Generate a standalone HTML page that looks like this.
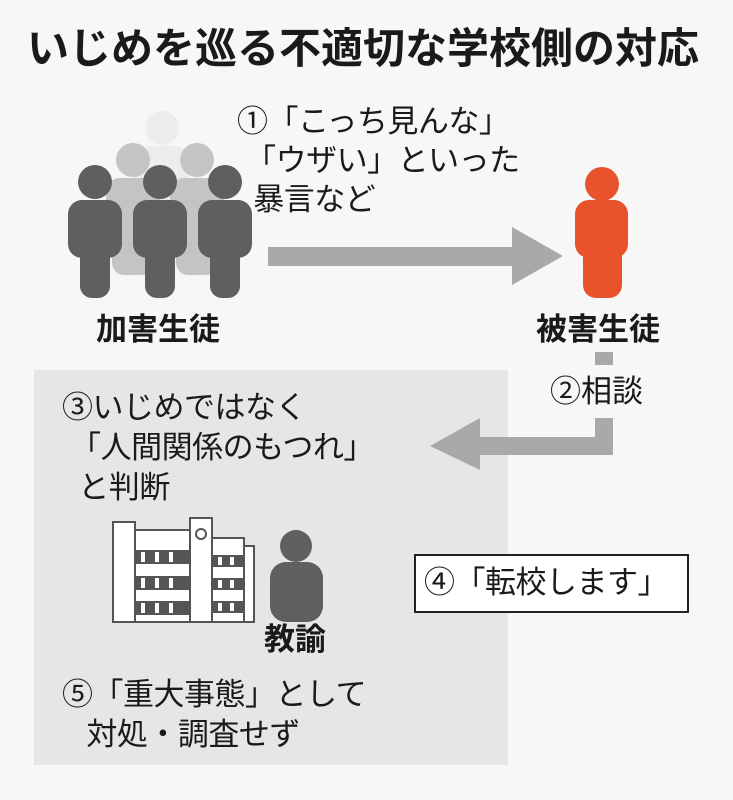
<!DOCTYPE html>
<html><head><meta charset="utf-8"><style>
body{margin:0;width:733px;height:800px;background:#f7f7f7;position:relative;overflow:hidden;font-family:"Liberation Sans","Noto Sans CJK JP",sans-serif;color:#1a1a1a}
.t{position:absolute;white-space:nowrap;line-height:1}
svg{position:absolute;left:0;top:0}
</style></head><body>
<svg width="733" height="800" viewBox="0 0 733 800">
<rect x="34" y="370" width="474" height="395" fill="#e6e6e6"/>
<g fill="#ececec"><circle cx="162" cy="128" r="17"/><rect x="135" y="146" width="54" height="100" rx="14"/></g>
<g fill="#c4c4c4"><circle cx="133" cy="160" r="17"/><rect x="106" y="178" width="54" height="60" rx="14"/><rect x="112" y="220" width="42" height="55" rx="12"/>
<circle cx="197" cy="160" r="17"/><rect x="170" y="178" width="54" height="60" rx="14"/><rect x="176" y="220" width="42" height="55" rx="12"/></g>
<g fill="#5f5f5f">
<circle cx="95" cy="182" r="17"/><rect x="68" y="200" width="54" height="58" rx="14"/><rect x="80" y="240" width="30" height="58" rx="12"/>
<circle cx="160" cy="182" r="17"/><rect x="133" y="200" width="54" height="58" rx="14"/><rect x="145" y="240" width="30" height="58" rx="12"/>
<circle cx="225" cy="182" r="17"/><rect x="198" y="200" width="54" height="58" rx="14"/><rect x="210" y="240" width="30" height="58" rx="12"/>
</g>
<g fill="#e8532c"><circle cx="602" cy="184" r="17"/><rect x="575" y="200" width="53" height="58" rx="14"/><rect x="583" y="240" width="39" height="58" rx="13"/></g>
<polygon points="268,247 512,247 512,227 563,256 512,285 512,266 268,266" fill="#a9a9a9"/>
<rect x="595" y="352" width="18" height="13" fill="#a9a9a9"/>
<polygon points="595,418 613,418 613,455 480,455 480,470 430,446 480,418 480,437 595,437" fill="#a9a9a9"/>
<g fill="#fff" stroke="#555" stroke-width="2">
<rect x="113" y="522" width="22" height="100"/>
<rect x="135" y="530" width="55" height="92"/>
<rect x="190" y="518" width="22" height="104"/>
<rect x="212" y="538" width="32" height="84"/>
<rect x="244" y="546" width="10" height="76"/>
<circle cx="201" cy="534" r="5"/>
</g>
<g fill="#555"><rect x="135" y="550" width="55" height="14"/><rect x="135" y="576" width="55" height="14"/><rect x="135" y="601" width="55" height="14"/>
<rect x="212" y="555" width="32" height="12"/><rect x="212" y="578" width="32" height="12"/><rect x="212" y="601" width="32" height="12"/></g>
<g fill="#fff"><rect x="141" y="552" width="4" height="10"/><rect x="155" y="552" width="4" height="10"/><rect x="169" y="552" width="4" height="10"/>
<rect x="141" y="578" width="4" height="10"/><rect x="155" y="578" width="4" height="10"/><rect x="169" y="578" width="4" height="10"/>
<rect x="141" y="603" width="4" height="10"/><rect x="155" y="603" width="4" height="10"/><rect x="169" y="603" width="4" height="10"/>
<rect x="218" y="557" width="4" height="8"/><rect x="230" y="557" width="4" height="8"/><rect x="218" y="580" width="4" height="8"/><rect x="230" y="580" width="4" height="8"/><rect x="218" y="603" width="4" height="8"/><rect x="230" y="603" width="4" height="8"/></g>
<g fill="#5f5f5f"><circle cx="296" cy="546" r="16"/><rect x="270" y="562" width="53" height="60" rx="16"/></g>
<rect x="415" y="555" width="273" height="57" fill="#fff" stroke="#222" stroke-width="2"/>
</svg>
<div class="t" style="left:27px;top:28px;font-size:42px;font-weight:bold">いじめを巡る不適切な学校側の対応</div>
<div class="t" style="left:237px;top:102px;font-size:31px;line-height:39px;letter-spacing:-0.5px">①「こっち見んな」<br>&nbsp;「ウザい」といった<br>&nbsp;&nbsp;暴言など</div>
<div class="t" style="left:96px;top:314px;font-size:31px;font-weight:bold">加害生徒</div>
<div class="t" style="left:536px;top:314px;font-size:31px;font-weight:bold">被害生徒</div>
<div class="t" style="left:550px;top:376px;font-size:31px">②相談</div>
<div class="t" style="left:62px;top:388px;font-size:31px;line-height:40px;letter-spacing:-0.5px">③いじめではなく<br>&nbsp;「人間関係のもつれ」<br>&nbsp;&nbsp;と判断</div>
<div class="t" style="left:424px;top:567px;font-size:31px;letter-spacing:-0.5px">④「転校します」</div>
<div class="t" style="left:264px;top:624px;font-size:31px;font-weight:bold">教諭</div>
<div class="t" style="left:62px;top:675px;font-size:31px;line-height:40px;letter-spacing:-0.5px">⑤「重大事態」として<br>&nbsp;&nbsp;&nbsp;対処・調査せず</div>
</body></html>
